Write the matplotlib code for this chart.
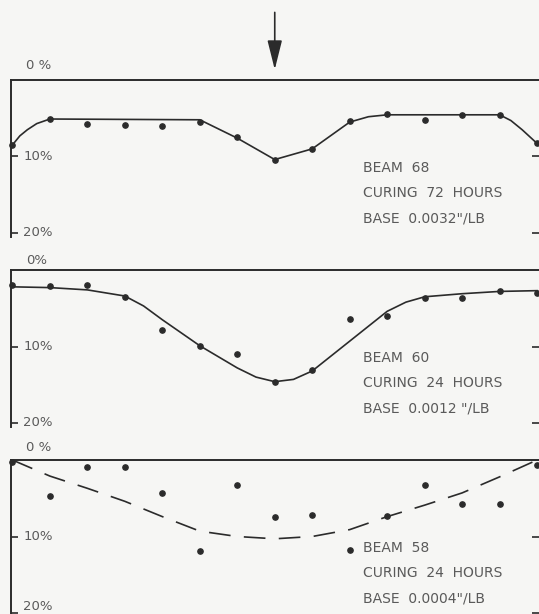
import matplotlib
matplotlib.use("Agg")
import matplotlib.pyplot as plt

# positions along the beam (equal spacing, 15 stations)
stations = list(range(15))

# beam 68 - curing 72 hours - base 0.0032"/lb  (deflection in %)
beam68_pts = [8.5, 5.1, 5.75, 5.9, 6.0, 5.45, 7.4, 10.45, 9.0, 5.3, 4.45, 5.2, 4.6, 4.6, 8.2]
beam68_curve_x = [0, 0.2, 0.4, 0.65, 1, 5, 6, 7, 8, 9, 9.5, 10, 13, 13.3, 13.6, 14]
beam68_curve_y = [8.5, 7.3, 6.5, 5.7, 5.1, 5.2, 7.6, 10.4, 9.0, 5.5, 4.8, 4.55, 4.55, 5.3, 6.5, 8.3]

# beam 60 - curing 24 hours - base 0.0012"/lb
beam60_pts = [2.0, 2.1, 2.0, 3.5, 7.85, 9.9, 11.0, 14.7, 13.1, 6.4, 5.97, 3.7, 3.7, 2.8, 3.0]
beam60_curve_x = [0, 1, 2, 3, 3.5, 4, 5, 6, 6.5, 7, 7.5, 8, 9, 10, 10.5, 11, 12, 13, 14]
beam60_curve_y = [2.2, 2.3, 2.6, 3.4, 4.7, 6.5, 9.9, 12.8, 14.0, 14.6, 14.3, 13.2, 9.3, 5.4, 4.2, 3.5, 3.1, 2.8, 2.7]

# beam 58 - curing 24 hours - base 0.0004"/lb
beam58_pts = [0.2, 4.65, 0.9, 0.95, 4.3, 11.85, 3.27, 7.5, 7.2, 11.7, 7.3, 3.27, 5.8, 5.8, 0.65]
beam58_curve_x = list(range(15))
beam58_curve_y = [0, 2.1, 3.7, 5.4, 7.4, 9.3, 10.0, 10.3, 10.0, 9.1, 7.4, 5.9, 4.3, 2.2, 0]

notes = [
    ["BEAM  68", "CURING  72  HOURS", "BASE  0.0032\"/LB"],
    ["BEAM  60", "CURING  24  HOURS", "BASE  0.0012 \"/LB"],
    ["BEAM  58", "CURING  24  HOURS", "BASE  0.0004\"/LB"],
]
zero_labels = ["0 %", "0%", "0 %"]
zero_gap = [6, 2, 4]  # points above the top line

W, H = 539, 614
bg = "#f6f6f4"
ink = "#2b2b2b"
txt = "#5a5a5a"

fig = plt.figure(figsize=(W / 100, H / 100), dpi=100, facecolor=bg)

# panel frames in pixels: (top, bottom)
frames = [(80, 237), (270, 427), (460, 614)]
left_px = 10.5

axes = []
for top, bot in frames:
    ax = fig.add_axes([left_px / W, 1 - bot / H, (W - left_px) / W, (bot - top) / H])
    ax.set_facecolor(bg)
    ax.set_xlim(-0.05, 14.05)
    ax.set_ylim((bot - top) / 7.65, 0)
    for s in ["bottom", "right"]:
        ax.spines[s].set_visible(False)
    for s in ["top", "left"]:
        ax.spines[s].set_linewidth(1.4)
        ax.spines[s].set_color(ink)
    ax.set_xticks([])
    ax.set_yticks([10, 20])
    ax.set_yticklabels([])
    ax.tick_params(axis="y", direction="in", length=5, width=1.2, color=ink,
                   left=True, right=True)
    axes.append(ax)

ax1, ax2, ax3 = axes

ax1.plot(beam68_curve_x, beam68_curve_y, color=ink, lw=1.2, clip_on=False)
ax1.plot(stations, beam68_pts, "o", color=ink, ms=3.8, clip_on=False)

ax2.plot(beam60_curve_x, beam60_curve_y, color=ink, lw=1.2, clip_on=False)
ax2.plot(stations, beam60_pts, "o", color=ink, ms=3.8, clip_on=False)

ax3.plot(beam58_curve_x, beam58_curve_y, color=ink, lw=1.2, dashes=(13, 8), clip_on=False)
ax3.plot(stations, beam58_pts, "o", color=ink, ms=3.8, clip_on=False)

# load point arrow above beam 68
ax1.annotate("", xy=(7, -1.0), xytext=(7, -9.2), annotation_clip=False,
             arrowprops=dict(arrowstyle="-|>,head_length=1.8,head_width=0.45",
                             color=ink, lw=1.2, mutation_scale=10))

for k, (ax, lab, note) in enumerate(zip(axes, zero_labels, notes)):
    ax.annotate(lab, xy=(0.03, 1.0), xycoords="axes fraction",
                xytext=(0, zero_gap[k]), textcoords="offset points",
                ha="left", va="bottom", fontsize=9.5, color=txt,
                annotation_clip=False)
    for v in [10, 20]:
        if k == 2 and v == 20:
            ax.text(0.024, v, f"{v}%", transform=ax.get_yaxis_transform(),
                    ha="left", va="bottom", fontsize=9.5, color=txt)
        else:
            ax.text(0.024, v, f"{v}%", transform=ax.get_yaxis_transform(),
                    ha="left", va="center", fontsize=9.5, color=txt)
    for i, line in enumerate(note):
        ax.text(0.667, 11.5 + i * 3.3, line, transform=ax.get_yaxis_transform(),
                ha="left", va="center", fontsize=10, color=txt)

fig.savefig("out.png", dpi=100, facecolor=bg)
